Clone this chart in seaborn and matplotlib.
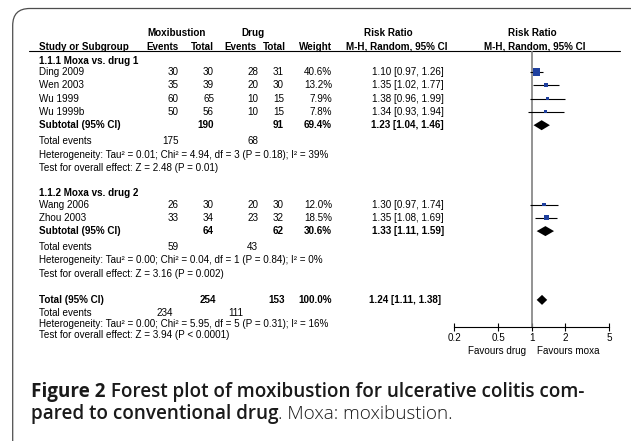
import matplotlib
matplotlib.use("Agg")
import pandas as pd
import seaborn as sns
import matplotlib.pyplot as plt
from matplotlib.patches import FancyBboxPatch

# ---------------- data ----------------
studies = ["Ding 2009", "Wen 2003", "Wu 1999", "Wu 1999b", "Wang 2006", "Zhou 2003"]
group_of = [0, 0, 0, 0, 1, 1]
moxa_events = [30, 35, 60, 50, 26, 33]
moxa_total = [30, 39, 65, 56, 30, 34]
drug_events = [28, 20, 10, 10, 20, 23]
drug_total = [31, 30, 15, 15, 30, 32]
weights = [40.6, 13.2, 7.9, 7.8, 12.0, 18.5]
rr = [1.10, 1.35, 1.38, 1.34, 1.30, 1.35]
rr_lo = [0.97, 1.02, 0.96, 0.93, 0.97, 1.08]
rr_hi = [1.26, 1.77, 1.99, 1.94, 1.74, 1.69]

group_titles = ["1.1.1 Moxa vs. drug 1", "1.1.2 Moxa vs. drug 2"]
sub_moxa_total = [190, 64]
sub_drug_total = [91, 62]
sub_moxa_events = [175, 59]
sub_drug_events = [68, 43]
sub_weight = [69.4, 30.6]
sub_rr = [1.23, 1.33]
sub_lo = [1.04, 1.11]
sub_hi = [1.46, 1.59]
sub_het = [
    "Heterogeneity: Tau² = 0.01; Chi² = 4.94, df = 3 (P = 0.18); I² = 39%",
    "Heterogeneity: Tau² = 0.00; Chi² = 0.04, df = 1 (P = 0.84); I² = 0%",
]
sub_test = [
    "Test for overall effect: Z = 2.48 (P = 0.01)",
    "Test for overall effect: Z = 3.16 (P = 0.002)",
]

total_moxa, total_drug = 254, 153
total_moxa_events, total_drug_events = 234, 111
total_weight = 100.0
total_rr, total_lo, total_hi = 1.24, 1.11, 1.38
total_het = "Heterogeneity: Tau² = 0.00; Chi² = 5.95, df = 5 (P = 0.31); I² = 16%"
total_test = "Test for overall effect: Z = 3.94 (P < 0.0001)"

x_ticks = [0.2, 0.5, 1, 2, 5]
x_ticklabels = ["0.2", "0.5", "1", "2", "5"]
favours = ["Favours drug", "Favours moxa"]

# ---------------- style ----------------
sns.set_theme(style="white")
plt.rcParams["font.family"] = ["Liberation Sans", "DejaVu Sans"]

W, H = 631, 441
FS = 7.15
COL_STUDY = 39
COL_ME, COL_MT, COL_DE, COL_DT, COL_W, COL_RR = 179, 214, 258, 284, 332, 444
BLUE = "#1e3f9e"

# row layout (pixel y from top)
rows = {"title": [], "sub": [], "events": [], "het": [], "test": []}
y = 60.5
study_y = []
for g in range(2):
    rows["title"].append(y)
    y += 11.5
    for gi in group_of:
        if gi == g:
            study_y.append(y)
            y += 13.3
    rows["sub"].append(y)
    y += 15.8
    rows["events"].append(y)
    y += 13.5
    rows["het"].append(y)
    y += 13.5
    rows["test"].append(y)
    y += 25.0
total_y = y + 1.0
tot_events_y = total_y + 13.0
tot_het_y = tot_events_y + 11.0
tot_test_y = tot_het_y + 11.0

fig = plt.figure(figsize=(W / 100, H / 100), dpi=100)
tax = fig.add_axes([0, 0, 1, 1])
tax.set_xlim(0, W)
tax.set_ylim(H, 0)
tax.axis("off")

# frame with rounded top-left corner (right and bottom run off the page)
tax.add_patch(FancyBboxPatch((12.7, 8.5), 634, 500,
                             boxstyle="round,pad=0,rounding_size=17",
                             fill=False, ec="#4d4d4d", lw=0.9))


def txt(x, yy, s, ha="right", bold=False, size=FS, **kw):
    return tax.text(x, yy, s, ha=ha, va="center", fontsize=size,
                    fontweight="bold" if bold else "normal", color="black", **kw)


# headers
txt(177, 33.5, "Moxibustion", ha="center", bold=True)
txt(253, 33.5, "Drug", ha="center", bold=True)
txt(388, 33.5, "Risk Ratio", ha="center", bold=True)
txt(532.5, 33.5, "Risk Ratio", ha="center", bold=True)
hy = 46.5
txt(COL_STUDY, hy, "Study or Subgroup", ha="left", bold=True)
txt(COL_ME - 0.5, hy, "Events", bold=True)
txt(COL_MT, hy, "Total", bold=True)
txt(COL_DE - 1, hy, "Events", bold=True)
txt(COL_DT + 1.5, hy, "Total", bold=True)
txt(COL_W, hy, "Weight", bold=True)
txt(397, hy, "M-H, Random, 95% CI", ha="center", bold=True)
txt(535, hy, "M-H, Random, 95% CI", ha="center", bold=True)
tax.plot([29, 620], [50.7, 50.7], color="black", lw=0.8)

# study rows
for i, s in enumerate(studies):
    yy = study_y[i]
    txt(COL_STUDY, yy, s, ha="left")
    txt(COL_ME, yy, str(moxa_events[i]))
    txt(COL_MT, yy, str(moxa_total[i]))
    txt(COL_DE, yy, str(drug_events[i]))
    txt(COL_DT, yy, str(drug_total[i]))
    txt(COL_W, yy, f"{weights[i]:.1f}%")
    txt(COL_RR, yy, f"{rr[i]:.2f} [{rr_lo[i]:.2f}, {rr_hi[i]:.2f}]")

for g in range(2):
    txt(COL_STUDY, rows["title"][g], group_titles[g], ha="left", bold=True)
    ys = rows["sub"][g]
    txt(COL_STUDY, ys, "Subtotal (95% CI)", ha="left", bold=True)
    txt(COL_MT, ys, str(sub_moxa_total[g]), bold=True)
    txt(COL_DT, ys, str(sub_drug_total[g]), bold=True)
    txt(COL_W, ys, f"{sub_weight[g]:.1f}%", bold=True)
    txt(COL_RR, ys, f"{sub_rr[g]:.2f} [{sub_lo[g]:.2f}, {sub_hi[g]:.2f}]", bold=True)
    txt(COL_STUDY, rows["events"][g], "Total events", ha="left")
    txt(COL_ME, rows["events"][g], str(sub_moxa_events[g]))
    txt(COL_DE, rows["events"][g], str(sub_drug_events[g]))
    txt(COL_STUDY, rows["het"][g], sub_het[g], ha="left")
    txt(COL_STUDY, rows["test"][g], sub_test[g], ha="left")

# overall
txt(COL_STUDY, total_y, "Total (95% CI)", ha="left", bold=True)
txt(COL_MT + 2, total_y, str(total_moxa), bold=True)
txt(COL_DT + 1, total_y, str(total_drug), bold=True)
txt(COL_W, total_y, f"{total_weight:.1f}%", bold=True)
txt(COL_RR - 3, total_y, f"{total_rr:.2f} [{total_lo:.2f}, {total_hi:.2f}]", bold=True)
txt(COL_STUDY, tot_events_y, "Total events", ha="left")
txt(173, tot_events_y, str(total_moxa_events))
txt(243, tot_events_y, str(total_drug_events))
txt(COL_STUDY, tot_het_y, total_het, ha="left")
txt(COL_STUDY, tot_test_y, total_test, ha="left")

# ---------------- forest panel ----------------
AX_L, AX_R, AX_T, AX_B = 454, 609.3, 50.7, 327
fax = fig.add_axes([AX_L / W, 1 - AX_B / H, (AX_R - AX_L) / W, (AX_B - AX_T) / H])
fax.patch.set_alpha(0)

df = pd.DataFrame({"study": studies, "rr": rr, "lo": rr_lo, "hi": rr_hi,
                   "weight": weights, "y": study_y})
fax.axvline(1, color="#808080", lw=1.2, zorder=1)
fax.hlines(df["y"], df["lo"], df["hi"], color="black", lw=0.8, zorder=2)
k = 0.68
sns.scatterplot(data=df, x="rr", y="y", size="weight",
                sizes=(k * min(weights), k * max(weights)),
                size_norm=(min(weights), max(weights)),
                marker="s", color=BLUE, edgecolor="none", linewidth=0,
                legend=False, ax=fax, zorder=3)

h = 5.0
for est, lo, hi, yy in zip(sub_rr + [total_rr], sub_lo + [total_lo],
                           sub_hi + [total_hi], rows["sub"] + [total_y]):
    fax.fill([lo, est, hi, est], [yy, yy - h, yy, yy + h], color="black",
             lw=0, zorder=3)

fax.set_xscale("log")
fax.set_xlim(x_ticks[0], x_ticks[-1])
fax.set_ylim(AX_B, AX_T)
fax.set_xticks(x_ticks)
fax.set_xticklabels(x_ticklabels)
fax.minorticks_off()
fax.set_yticks([])
fax.set_xlabel("")
fax.set_ylabel("")
for side in ["top", "right", "left"]:
    fax.spines[side].set_visible(False)
fax.spines["bottom"].set_color("black")
fax.spines["bottom"].set_linewidth(0.8)
fax.tick_params(axis="x", direction="inout", length=6, width=0.8,
                labelsize=FS, pad=1.5, colors="black", bottom=True)

txt(497, 351, favours[0], ha="center")
txt(568, 351, favours[1], ha="center")

# ---------------- caption ----------------
cap_font = ["Open Sans", "DejaVu Sans"]
CFS = 13.6
CAP_C = "#1a1a1a"
cap_lines = [
    [("Figure 2", "bold"), (" Forest plot of moxibustion for ulcerative colitis com-", "semibold")],
    [("pared to conventional drug", "semibold"), (". Moxa: moxibustion.", "light")],
]
renderer = fig.canvas.get_renderer()
for base_y, parts in zip([397, 419], cap_lines):
    x0 = 31
    for s, wt in parts:
        t = tax.text(x0, base_y, s, ha="left", va="baseline", fontsize=CFS,
                     fontweight=wt, family=cap_font, color=CAP_C)
        bb = t.get_window_extent(renderer=renderer)
        x0 = tax.transData.inverted().transform((bb.x1, bb.y0))[0]

fig.savefig("out.png", dpi=100)
